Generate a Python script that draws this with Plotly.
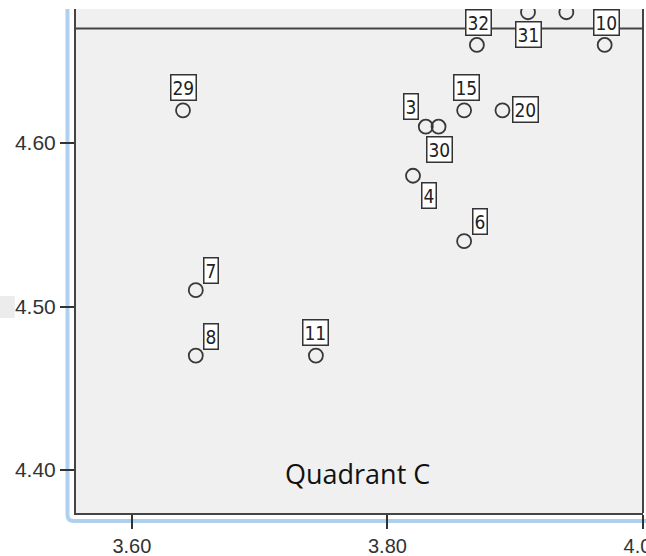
import plotly.graph_objects as go

# ---- data ----
case_ids = ["29", "7", "8", "11", "3", "30", "15", "20", "4", "6", "32", "31", "", "10"]
x_vals = [3.64, 3.65, 3.65, 3.744, 3.83, 3.84, 3.86, 3.89, 3.82, 3.86, 3.87, 3.91, 3.94, 3.97]
y_vals = [4.62, 4.51, 4.47, 4.47, 4.61, 4.61, 4.62, 4.62, 4.58, 4.54, 4.66, 4.68, 4.68, 4.66]
ref_line_y = 4.67
x_ticks = [3.60, 3.80, 4.00]
y_ticks = [4.40, 4.50, 4.60]
quadrant_label = "Quadrant C"

# label placement (pixel offsets from marker), purely styling
label_offsets = {
    "29": (0, 23), "7": (15, 20), "8": (15, 19), "11": (0, 23),
    "3": (-15, 20), "30": (1, -23), "15": (2, 23), "20": (23, 1),
    "4": (16, -20), "6": (16, 20), "32": (2, 22), "31": (0, -22), "10": (2, 22),
}

fig = go.Figure()
fig.add_trace(go.Scatter(
    x=x_vals, y=y_vals, mode="markers",
    marker=dict(symbol="circle-open", size=14, color="#383838", line=dict(width=1.8, color="#383838")),
    cliponaxis=True, hoverinfo="skip", showlegend=False,
))

annotations = []
for cid, xv, yv in zip(case_ids, x_vals, y_vals):
    if not cid:
        continue
    dx, dy = label_offsets.get(cid, (0, 22))
    annotations.append(dict(
        x=xv, y=yv, xref="x", yref="y", text=cid, showarrow=False,
        xshift=dx, yshift=dy,
        font=dict(family="Liberation Sans Narrow, Arial Narrow, DejaVu Sans Condensed, sans-serif", size=19, color="#222"),
        bgcolor="white", bordercolor="#333", borderwidth=1.5, borderpad=1,
    ))

annotations.append(dict(
    x=0.4956, y=0.0774, xref="paper", yref="paper", text=quadrant_label, showarrow=False,
    xanchor="center", yanchor="middle",
    font=dict(family="Open Sans, sans-serif", size=27, color="#111"),
))

shapes = [
    # mean reference line
    dict(type="line", xref="paper", x0=0, x1=1, yref="y", y0=ref_line_y, y1=ref_line_y,
         line=dict(color="#444", width=2)),
    # right border of plot
    dict(type="line", xref="paper", x0=1, x1=1, yref="paper", y0=0, y1=1,
         line=dict(color="#444", width=2)),
    # blue selection frame
    dict(type="path", xref="paper", yref="paper", layer="below",
         path="M -0.0150,1 L -0.0150,-0.004 Q -0.0150,-0.0159 -0.004,-0.0159 L 1.02,-0.0159",
         line=dict(color="#b0d0f0", width=4)),
    # small gray patch at the left edge
    dict(type="rect", xref="paper", yref="paper", layer="below",
         x0=-0.134, x1=-0.108, y0=(513 - 318) / 504, y1=(513 - 296) / 504,
         fillcolor="#ececec", line=dict(width=0)),
]

fig.update_layout(
    width=646, height=556,
    margin=dict(l=76, r=3, t=9, b=43, autoexpand=False),
    paper_bgcolor="white", plot_bgcolor="#f0f0f0",
    annotations=annotations, shapes=shapes,
    xaxis=dict(range=[3.55625, 4.0], tickvals=x_ticks, ticktext=[f"{v:.2f}" for v in x_ticks],
               automargin=False, ticklabeloverflow="allow",
               showgrid=False, zeroline=False, showline=True, linecolor="#444", linewidth=2,
               ticks="outside", ticklen=14, tickwidth=2, tickcolor="#333",
               ticklabelstandoff=0,
               tickfont=dict(family="Liberation Sans, Arial, sans-serif", size=20, color="#333")),
    yaxis=dict(range=[4.3737, 4.682], tickvals=y_ticks, ticktext=[f"{v:.2f}" for v in y_ticks],
               automargin=False,
               showgrid=False, zeroline=False, showline=True, linecolor="#444", linewidth=2,
               ticks="outside", ticklen=14, tickwidth=2, tickcolor="#333",
               tickfont=dict(family="Liberation Sans, Arial, sans-serif", size=21, color="#333")),
)

fig.write_html(
    "out.html",
    config={"displayModeBar": False},
    post_script="document.body.style.margin='0';document.body.style.overflow='hidden';",
)
